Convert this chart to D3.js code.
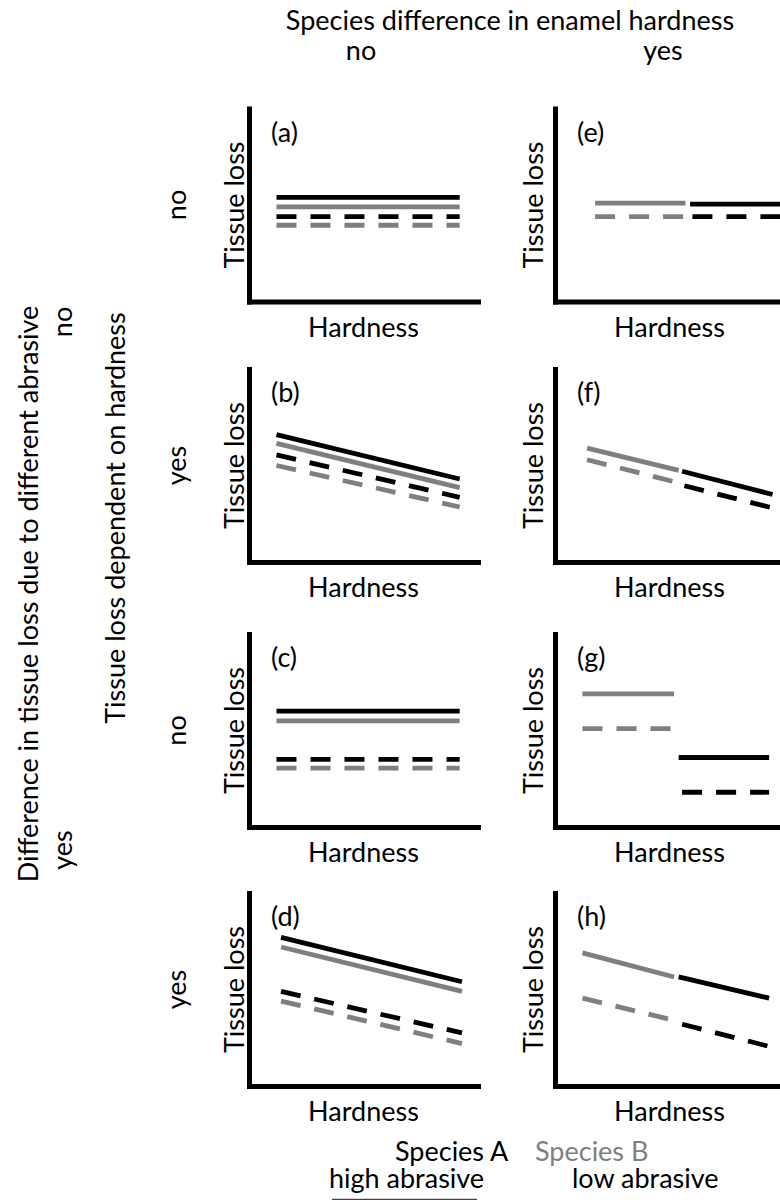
<!DOCTYPE html>
<html>
<head>
<meta charset="utf-8">
<script src="https://cdn.jsdelivr.net/npm/d3@7"></script>
<style>
  html, body { margin: 0; padding: 0; background: #fff; }
  svg { display: block; }
  text { font-family: Lato, "Open Sans", sans-serif; }
</style>
</head>
<body>
<svg id="chart" width="780" height="1200"></svg>
<script>
// ---------------- data ----------------
const title = "Species difference in enamel hardness";
const colLabels = ["no", "yes"];
const rowLabels = ["no", "yes", "no", "yes"];
const outerRowLabels = ["no", "yes"];
const innerAxisTitle = "Tissue loss dependent on hardness";
const outerAxisTitle = "Difference in tissue loss due to different abrasive";
const xTitle = "Hardness";
const yTitle = "Tissue loss";
const panelLabels = ["(a)", "(b)", "(c)", "(d)", "(e)", "(f)", "(g)", "(h)"];
const speciesNames = ["Species A", "Species B"];
const abrasiveNames = ["high abrasive", "low abrasive"];

// segments per panel: species, abrasive, x start/end, y start/end (0-100 scale)
const panelA = [
  { sp: "A", ab: "high", x: [12, 92], y: [54, 54] },
  { sp: "B", ab: "high", x: [12, 92], y: [49, 49] },
  { sp: "A", ab: "low",  x: [12, 92], y: [44, 44] },
  { sp: "B", ab: "low",  x: [12, 92], y: [39.5, 39.5] }
];
const panelB = [
  { sp: "A", ab: "high", x: [12, 92], y: [66, 43] },
  { sp: "B", ab: "high", x: [12, 92], y: [61.5, 38.5] },
  { sp: "A", ab: "low",  x: [12, 92], y: [55.5, 33.5] },
  { sp: "B", ab: "low",  x: [12, 92], y: [50, 28.5] }
];
const panelC = [
  { sp: "A", ab: "high", x: [12, 92], y: [60, 60] },
  { sp: "B", ab: "high", x: [12, 92], y: [55, 55] },
  { sp: "A", ab: "low",  x: [12, 92], y: [35, 35] },
  { sp: "B", ab: "low",  x: [12, 92], y: [30.5, 30.5] }
];
const panelD = [
  { sp: "A", ab: "high", x: [14, 93], y: [77, 54] },
  { sp: "B", ab: "high", x: [14, 93], y: [72, 49] },
  { sp: "A", ab: "low",  x: [14, 93], y: [49, 27.5] },
  { sp: "B", ab: "low",  x: [14, 93], y: [44, 22] }
];
const panelE = [
  { sp: "B", ab: "high", x: [17.5, 57], y: [51, 51] },
  { sp: "A", ab: "high", x: [59, 100], y: [50.5, 50.5] },
  { sp: "B", ab: "low",  x: [17.5, 57], y: [44, 44] },
  { sp: "A", ab: "low",  x: [60, 100], y: [44, 44] }
];
const panelF = [
  { sp: "B", ab: "high", x: [14, 54], y: [59, 47.5] },
  { sp: "A", ab: "high", x: [55.5, 95], y: [47, 35] },
  { sp: "B", ab: "low",  x: [14, 54], y: [53, 41] },
  { sp: "A", ab: "low",  x: [56.5, 95], y: [39.5, 28] }
];
const panelG = [
  { sp: "B", ab: "high", x: [12, 52], y: [69, 69] },
  { sp: "B", ab: "low",  x: [12, 52], y: [51, 51] },
  { sp: "A", ab: "high", x: [54, 93.5], y: [36, 36] },
  { sp: "A", ab: "low",  x: [55.5, 93.5], y: [18, 18] }
];
const panelH = [
  { sp: "B", ab: "high", x: [12, 52], y: [69, 56.5] },
  { sp: "A", ab: "high", x: [54, 93.5], y: [56.5, 45.5] },
  { sp: "B", ab: "low",  x: [12, 52], y: [45.5, 34] },
  { sp: "A", ab: "low",  x: [55.5, 93.5], y: [32, 20.5] }
];
const panels = [panelA, panelB, panelC, panelD, panelE, panelF, panelG, panelH];

// ---------------- layout ----------------
const colX = [249, 555];
const rowTop = [108.5, 369, 634, 893];
const pw = 229, ph = 193;
const FS = 27;
const BLACK = "#000000", GREY = "#7f7f7f";

const svg = d3.select("#chart");

svg.append("text").attr("x", 510).attr("y", 30).attr("text-anchor", "middle")
  .attr("font-size", FS).attr("fill", BLACK).text(title);
colLabels.forEach((t, i) => {
  svg.append("text").attr("x", [361, 663][i]).attr("y", 60).attr("text-anchor", "middle")
    .attr("font-size", FS).attr("fill", BLACK).text(t);
});

function vtext(x, y, t, color) {
  svg.append("text").attr("transform", `translate(${x},${y}) rotate(-90)`)
    .attr("text-anchor", "middle").attr("font-size", FS).attr("fill", color || BLACK).text(t);
}

panels.forEach((segs, i) => {
  const c = Math.floor(i / 4), r = i % 4;
  const x0 = colX[c], top = rowTop[r], bottom = top + ph;
  const xs = d3.scaleLinear().domain([0, 100]).range([x0, x0 + pw]);
  const ys = d3.scaleLinear().domain([0, 100]).range([bottom, top]);
  const g = svg.append("g");

  // axes
  g.append("g").attr("transform", `translate(${x0},0)`)
    .call(d3.axisLeft(ys).tickValues([]).tickSizeOuter(0));
  g.append("g").attr("transform", `translate(0,${bottom})`)
    .call(d3.axisBottom(xs).tickValues([]).tickSizeOuter(0));
  g.selectAll(".domain").attr("stroke", BLACK).attr("stroke-width", 5)
    .attr("stroke-linecap", "square").attr("fill", "none");

  // segments
  const line = d3.line().x(d => xs(d[0])).y(d => ys(d[1]));
  g.selectAll("path.seg").data(segs).join("path").attr("class", "seg")
    .attr("d", d => line([[d.x[0], d.y[0]], [d.x[1], d.y[1]]]))
    .attr("fill", "none")
    .attr("stroke", d => d.sp === "A" ? BLACK : GREY)
    .attr("stroke-width", 4.8)
    .attr("stroke-dasharray", d => d.ab === "low" ? "20,14" : null);

  // labels
  g.append("text").attr("x", x0 + 22).attr("y", top + 33).attr("font-size", FS)
    .attr("fill", BLACK).text(panelLabels[i]);
  g.append("text").attr("x", x0 + pw / 2).attr("y", bottom + 35).attr("text-anchor", "middle")
    .attr("font-size", FS).attr("fill", BLACK).text(xTitle);
  vtext(x0 - (c === 0 ? 5 : 12), (top + bottom) / 2, yTitle);
});

// row labels
rowLabels.forEach((t, r) => vtext(186, rowTop[r] + ph / 2, t));
vtext(125, 518, innerAxisTitle);
outerRowLabels.forEach((t, i) => vtext(72, [322, 850][i], t));
vtext(38, 594, outerAxisTitle);

// legend
svg.append("text").attr("x", 395).attr("y", 1161).attr("font-size", FS).attr("fill", BLACK).text(speciesNames[0]);
svg.append("text").attr("x", 535).attr("y", 1161).attr("font-size", FS).attr("fill", GREY).text(speciesNames[1]);
svg.append("text").attr("x", 329).attr("y", 1188).attr("font-size", FS).attr("fill", BLACK).text(abrasiveNames[0]);
svg.append("text").attr("x", 572).attr("y", 1188).attr("font-size", FS).attr("fill", BLACK).text(abrasiveNames[1]);
svg.append("line").attr("x1", 332).attr("x2", 477).attr("y1", 1201).attr("y2", 1201)
  .attr("stroke", "#444").attr("stroke-width", 4.6);
</script>
</body>
</html>
